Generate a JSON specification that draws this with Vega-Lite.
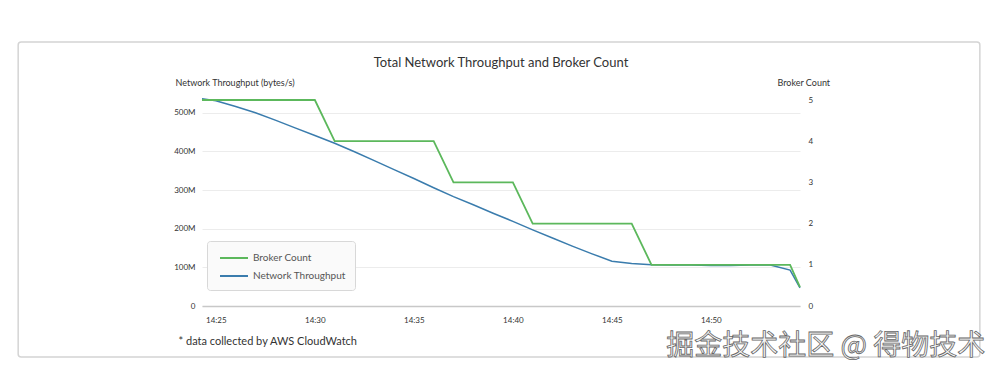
{
  "$schema": "https://vega.github.io/schema/vega-lite/v6.json",
  "width": 598,
  "height": 206,
  "autosize": {"type": "none"},
  "padding": {"left": 202, "top": 100, "right": 200, "bottom": 70},
  "background": "white",
  "config": {
    "font": "Lato",
    "view": {"stroke": null}
  },
  "title": {
    "text": "Total Network Throughput and Broker Count",
    "anchor": "middle",
    "frame": "group",
    "fontSize": 13,
    "fontWeight": "normal",
    "color": "#333",
    "offset": 10,
    "dy": 39
  },
  "datasets": {
    "tp": [
      {"t": "2021-01-01T14:24:18", "v": 536000000, "series": "Network Throughput"},
      {"t": "2021-01-01T14:25:00", "v": 531000000, "series": "Network Throughput"},
      {"t": "2021-01-01T14:26:00", "v": 516000000, "series": "Network Throughput"},
      {"t": "2021-01-01T14:27:00", "v": 500000000, "series": "Network Throughput"},
      {"t": "2021-01-01T14:28:00", "v": 481000000, "series": "Network Throughput"},
      {"t": "2021-01-01T14:29:00", "v": 461000000, "series": "Network Throughput"},
      {"t": "2021-01-01T14:30:00", "v": 441000000, "series": "Network Throughput"},
      {"t": "2021-01-01T14:31:00", "v": 421000000, "series": "Network Throughput"},
      {"t": "2021-01-01T14:32:00", "v": 399000000, "series": "Network Throughput"},
      {"t": "2021-01-01T14:33:00", "v": 376000000, "series": "Network Throughput"},
      {"t": "2021-01-01T14:34:00", "v": 353000000, "series": "Network Throughput"},
      {"t": "2021-01-01T14:35:00", "v": 330000000, "series": "Network Throughput"},
      {"t": "2021-01-01T14:36:00", "v": 306000000, "series": "Network Throughput"},
      {"t": "2021-01-01T14:37:00", "v": 283000000, "series": "Network Throughput"},
      {"t": "2021-01-01T14:38:00", "v": 262000000, "series": "Network Throughput"},
      {"t": "2021-01-01T14:39:00", "v": 240000000, "series": "Network Throughput"},
      {"t": "2021-01-01T14:40:00", "v": 219000000, "series": "Network Throughput"},
      {"t": "2021-01-01T14:41:00", "v": 197000000, "series": "Network Throughput"},
      {"t": "2021-01-01T14:42:00", "v": 176000000, "series": "Network Throughput"},
      {"t": "2021-01-01T14:43:00", "v": 155000000, "series": "Network Throughput"},
      {"t": "2021-01-01T14:44:00", "v": 135000000, "series": "Network Throughput"},
      {"t": "2021-01-01T14:45:00", "v": 116000000, "series": "Network Throughput"},
      {"t": "2021-01-01T14:46:00", "v": 110000000, "series": "Network Throughput"},
      {"t": "2021-01-01T14:47:00", "v": 107000000, "series": "Network Throughput"},
      {"t": "2021-01-01T14:48:00", "v": 106000000, "series": "Network Throughput"},
      {"t": "2021-01-01T14:49:00", "v": 106000000, "series": "Network Throughput"},
      {"t": "2021-01-01T14:50:00", "v": 105000000, "series": "Network Throughput"},
      {"t": "2021-01-01T14:51:00", "v": 105000000, "series": "Network Throughput"},
      {"t": "2021-01-01T14:52:00", "v": 106000000, "series": "Network Throughput"},
      {"t": "2021-01-01T14:53:00", "v": 106000000, "series": "Network Throughput"},
      {"t": "2021-01-01T14:54:00", "v": 93000000, "series": "Network Throughput"},
      {"t": "2021-01-01T14:54:30", "v": 47000000, "series": "Network Throughput"}
    ],
    "bc": [
      {"t": "2021-01-01T14:24:18", "c": 5, "series": "Broker Count"},
      {"t": "2021-01-01T14:30:00", "c": 5, "series": "Broker Count"},
      {"t": "2021-01-01T14:31:00", "c": 4, "series": "Broker Count"},
      {"t": "2021-01-01T14:36:00", "c": 4, "series": "Broker Count"},
      {"t": "2021-01-01T14:37:00", "c": 3, "series": "Broker Count"},
      {"t": "2021-01-01T14:40:00", "c": 3, "series": "Broker Count"},
      {"t": "2021-01-01T14:41:00", "c": 2, "series": "Broker Count"},
      {"t": "2021-01-01T14:46:00", "c": 2, "series": "Broker Count"},
      {"t": "2021-01-01T14:47:00", "c": 1, "series": "Broker Count"},
      {"t": "2021-01-01T14:54:00", "c": 1, "series": "Broker Count"},
      {"t": "2021-01-01T14:54:30", "c": 0.46, "series": "Broker Count"}
    ],
    "notes": [
      {"label": "掘金技术社区 @ 得物技术", "tx": "2021-01-01T14:55:48", "ty": -1.0, "fx1": "2021-01-01T14:15:01", "fx2": "2021-01-01T15:03:35", "fy1": -1.238, "fy2": 6.408}
    ]
  },
  "layer": [
    {
      "data": {"name": "notes"},
      "mark": {"type": "rect", "filled": false, "stroke": "#d4d4d4", "strokeWidth": 1.5, "cornerRadius": 3, "clip": false},
      "encoding": {
        "x": {"field": "fx1", "type": "temporal"},
        "x2": {"field": "fx2"},
        "y": {"field": "fy1", "type": "quantitative", "scale": {"domain": [0, 5], "nice": false, "zero": false}, "axis": null},
        "y2": {"field": "fy2"}
      }
    },
    {
      "data": {"name": "tp"},
      "mark": {"type": "line", "strokeWidth": 1.5},
      "encoding": {
        "x": {
          "field": "t",
          "type": "temporal",
          "scale": {"domain": ["2021-01-01T14:24:18", "2021-01-01T14:54:30"], "nice": false},
          "axis": {
            "format": "%H:%M",
            "values": [
              {"year": 2021, "month": 1, "date": 1, "hours": 14, "minutes": 25},
              {"year": 2021, "month": 1, "date": 1, "hours": 14, "minutes": 30},
              {"year": 2021, "month": 1, "date": 1, "hours": 14, "minutes": 35},
              {"year": 2021, "month": 1, "date": 1, "hours": 14, "minutes": 40},
              {"year": 2021, "month": 1, "date": 1, "hours": 14, "minutes": 45},
              {"year": 2021, "month": 1, "date": 1, "hours": 14, "minutes": 50}
            ],
            "ticks": false,
            "grid": false,
            "domainColor": "#c8c8c8",
            "domainWidth": 1.5,
            "labelPadding": 10,
            "labelFontSize": 8,
            "labelColor": "#333",
            "title": "* data collected by AWS CloudWatch",
            "titleFontSize": 11,
            "titleFontWeight": "normal",
            "titleColor": "#333",
            "titleAngle": 0,
            "titleAlign": "left",
            "titleBaseline": "middle",
            "titleX": -24,
            "titleY": 35
          }
        },
        "y": {
          "field": "v",
          "type": "quantitative",
          "scale": {"domain": [0, 533000000], "nice": false},
          "axis": {
            "orient": "left",
            "values": [0, 100000000, 200000000, 300000000, 400000000, 500000000],
            "labelExpr": "datum.value == 0 ? '0' : format(datum.value, '~s')",
            "ticks": false,
            "domain": false,
            "grid": true,
            "gridColor": "#ececec",
            "labelPadding": 7,
            "labelFontSize": 8,
            "labelColor": "#333",
            "title": "Network Throughput (bytes/s)",
            "titleFontSize": 9,
            "titleFontWeight": "normal",
            "titleColor": "#333",
            "titleAngle": 0,
            "titleAlign": "left",
            "titleBaseline": "middle",
            "titleX": -27,
            "titleY": -18
          }
        },
        "color": {
          "field": "series",
          "type": "nominal",
          "scale": {"domain": ["Broker Count", "Network Throughput"], "range": ["#5cb85c", "#3a7cad"]},
          "legend": {
            "title": null,
            "orient": "none",
            "legendX": 5,
            "legendY": 141,
            "symbolType": "M-2,0H2",
            "symbolSize": 196,
            "symbolStrokeWidth": 2,
            "symbolOffset": 10,
            "fillColor": "#fafafa",
            "strokeColor": "#d8d8d8",
            "cornerRadius": 3,
            "padding": 9,
            "rowPadding": 5,
            "labelOffset": 11,
            "labelFontSize": 10,
            "labelColor": "#555"
          }
        }
      }
    },
    {
      "data": {"name": "bc"},
      "mark": {"type": "line", "strokeWidth": 1.8},
      "encoding": {
        "x": {"field": "t", "type": "temporal"},
        "y": {
          "field": "c",
          "type": "quantitative",
          "scale": {"domain": [0, 5], "nice": false},
          "axis": {
            "orient": "right",
            "values": [0, 1, 2, 3, 4, 5],
            "ticks": false,
            "domain": false,
            "grid": false,
            "labelPadding": 8,
            "labelFontSize": 8,
            "labelColor": "#333",
            "title": "Broker Count",
            "titleFontSize": 9,
            "titleFontWeight": "normal",
            "titleColor": "#333",
            "titleAngle": 0,
            "titleAlign": "left",
            "titleBaseline": "middle",
            "titleX": -23,
            "titleY": -18
          }
        },
        "color": {"field": "series", "type": "nominal"}
      }
    },
    {
      "data": {"name": "notes"},
      "mark": {"type": "text", "font": "Noto Sans CJK SC", "fontSize": 28, "align": "center", "baseline": "middle", "fill": "#f4f4f4", "stroke": "#666", "strokeWidth": 0.8, "clip": false},
      "encoding": {
        "x": {"field": "tx", "type": "temporal"},
        "y": {"field": "ty", "type": "quantitative", "scale": {"domain": [0, 5], "nice": false, "zero": false}, "axis": null},
        "text": {"field": "label"}
      }
    }
  ],
  "resolve": {"scale": {"y": "independent"}}
}
